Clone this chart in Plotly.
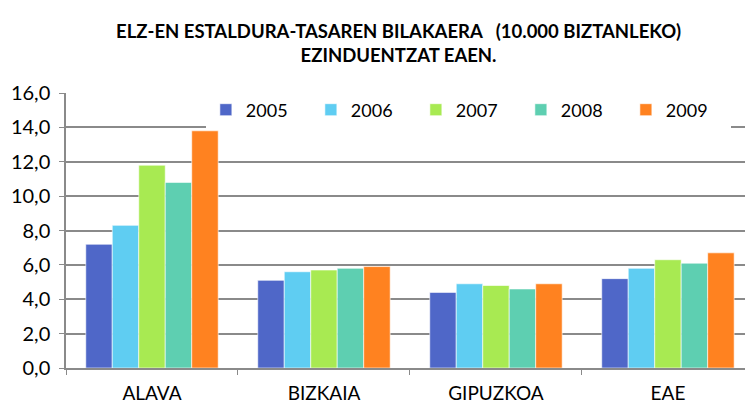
import plotly.graph_objects as go

# Territories and yearly rates (per 10,000 inhabitants)
regions = ["ALAVA", "BIZKAIA", "GIPUZKOA", "EAE"]
years = ["2005", "2006", "2007", "2008", "2009"]
rate_2005 = [7.2, 5.1, 4.4, 5.2]
rate_2006 = [8.3, 5.6, 4.9, 5.8]
rate_2007 = [11.8, 5.7, 4.8, 6.3]
rate_2008 = [10.8, 5.8, 4.6, 6.1]
rate_2009 = [13.8, 5.9, 4.9, 6.7]
series = [rate_2005, rate_2006, rate_2007, rate_2008, rate_2009]
colors = ["#4F67C8", "#5FCDF2", "#A8EA52", "#5ECFB1", "#FF8220"]

FONT = "Lato, Open Sans, sans-serif"

fig = go.Figure()
for year, vals, col in zip(years, series, colors):
    fig.add_trace(go.Bar(
        x=regions, y=vals, name=year,
        marker=dict(color=col, line=dict(color="rgba(255,255,255,0.6)", width=1)),
    ))

fig.update_layout(
    width=745, height=405,
    margin=dict(l=66, r=0, t=93, b=37),
    paper_bgcolor="white", plot_bgcolor="white",
    barmode="group", bargap=0.23, bargroupgap=0,
    separators=",.",
    title=dict(
        text="<b>ELZ-EN ESTALDURA-TASAREN BILAKAERA   (10.000 BIZTANLEKO)<br>EZINDUENTZAT EAEN.</b>",
        x=0.535, xanchor="center", y=1 - 37.5 / 405, yanchor="middle",
        font=dict(family=FONT, size=18.5, color="black"),
    ),
    legend=dict(
        orientation="h", x=0.206, xanchor="left",
        y=1 - 17 / 275, yanchor="middle",
        bgcolor="white", font=dict(family=FONT, size=18, color="black"),
        entrywidth=60, itemwidth=30, traceorder="normal",
    ),
    xaxis=dict(
        range=[-0.5, 3.448], showline=True, linecolor="#8a8a8a", linewidth=1.5,
        ticks="outside", tickson="boundaries", ticklen=5, tickcolor="#8a8a8a",
        ticklabelstandoff=7, automargin=False,
        tickfont=dict(family=FONT, size=19, color="black"),
    ),
    yaxis=dict(
        range=[0, 16], dtick=2, tickformat=".1f",
        showgrid=True, gridcolor="#8a8a8a", gridwidth=1.5,
        showline=True, linecolor="#8a8a8a", linewidth=1.5,
        ticks="outside", ticklen=5, tickcolor="#8a8a8a",
        ticklabelstandoff=5, automargin=False,
        tickfont=dict(family=FONT, size=20, color="black"),
        zeroline=False,
    ),
)

fig.write_html("out.html")
